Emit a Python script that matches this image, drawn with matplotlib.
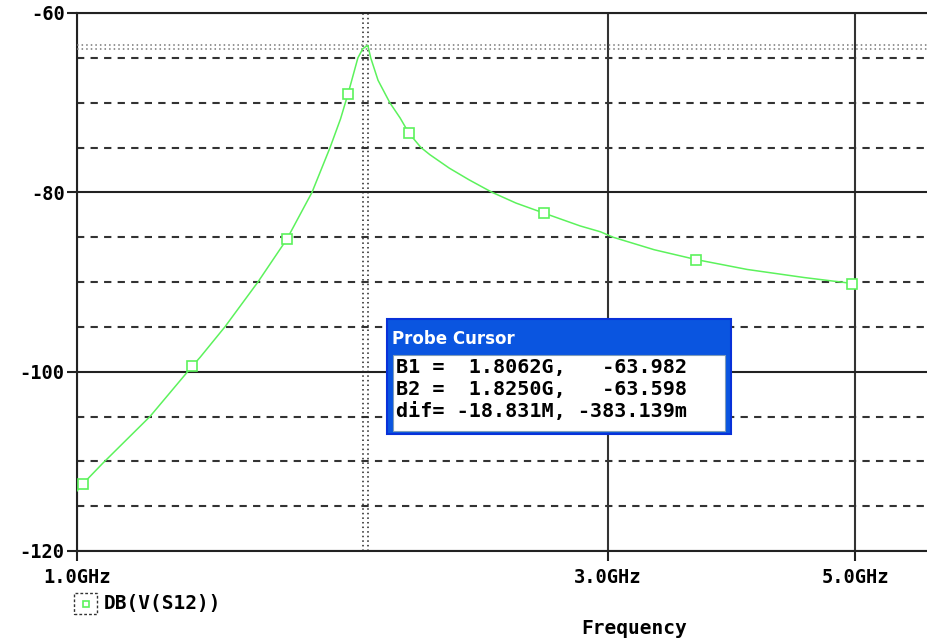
import numpy as np
import matplotlib.pyplot as plt
from matplotlib.patches import Rectangle

# trace DB(V(S12)), frequency in GHz
freq = [1.000, 1.0125, 1.055, 1.163, 1.269, 1.290, 1.358, 1.454, 1.544, 1.626,
        1.688, 1.725, 1.752, 1.788, 1.8062, 1.825, 1.836, 1.864, 1.910, 1.951,
        1.987, 2.037, 2.075, 2.160, 2.250, 2.360, 2.480, 2.625, 2.832, 2.953,
        3.030, 3.300, 3.600, 4.000, 4.500, 5.000]
db = [-113.3, -112.5, -110.2, -105.0, -99.4, -98.4, -95.0, -90.0, -85.2, -80.0,
      -75.0, -71.8, -69.0, -65.0, -63.982, -63.598, -65.0, -67.5, -70.0, -71.7,
      -73.4, -75.0, -75.8, -77.3, -78.6, -80.0, -81.2, -82.3, -83.75, -84.4,
      -85.0, -86.4, -87.5, -88.6, -89.5, -90.2]

# hollow square symbols drawn on the trace
marker_freq = [1.0125, 1.269, 1.544, 1.752, 1.987, 2.625, 3.600, 4.972]
marker_db = [-112.5, -99.4, -85.2, -69.0, -73.4, -82.3, -87.5, -90.2]

# cursors B1 and B2
cursor_freq = [1.8062, 1.825]
cursor_db = [-63.982, -63.598]

x_ticks = [1.0, 3.0, 5.0]
x_labels = ['1.0GHz', '3.0GHz', '5.0GHz']
y_major = [-120, -100, -80, -60]
y_minor = [-115, -110, -105, -95, -90, -85, -75, -70, -65]

probe_lines = ['B1 =  1.8062G,   -63.982',
               'B2 =  1.8250G,   -63.598',
               'dif= -18.831M, -383.139m']

W, H = 927, 641
green = '#5cf25c'
mono = 'DejaVu Sans Mono'

fig = plt.figure(figsize=(W / 100, H / 100), dpi=100)
ax = fig.add_axes([77 / W, 1 - 551 / H, 850 / W, 538 / H])

ax.plot(freq, db, color=green, lw=1.1, zorder=4)
ax.plot(marker_freq, marker_db, ls='none', marker='s', ms=6.5, mfc='white',
        mec=green, mew=1.2, zorder=5)

for f in cursor_freq:
    ax.axvline(f, color='#222222', lw=1.1, ls=(0, (1, 2)), zorder=3)
for v in cursor_db:
    ax.axhline(v, color='#777777', lw=1.1, ls=(0, (1, 2)), zorder=3)

ax.set_xscale('log')
ax.set_xlim(1.0, 5.803)
ax.set_ylim(-120, -60)
ax.xaxis.set_minor_locator(plt.NullLocator())
ax.set_xticks(x_ticks)
ax.set_xticklabels(x_labels)
ax.set_yticks(y_major)
ax.set_yticklabels([str(v) for v in y_major])
ax.set_yticks(y_minor, minor=True)

ax.grid(axis='x', which='major', color='#333333', lw=1.5, ls='-')
ax.grid(axis='y', which='major', color='#222222', lw=1.5, ls='-')
ax.grid(axis='y', which='minor', color='#333333', lw=1.5, ls=(0, (3.5, 3)))
ax.set_axisbelow(True)

ax.tick_params(axis='both', which='major', length=7, width=1.5, color='#222222',
               labelsize=13.5)
ax.tick_params(axis='y', which='minor', length=0)
ax.tick_params(axis='x', pad=5)
ax.tick_params(axis='y', pad=2)
for lab in ax.get_xticklabels() + ax.get_yticklabels():
    lab.set_fontfamily(mono)
    lab.set_fontweight('bold')

ax.spines['right'].set_visible(False)
for s in ['left', 'top', 'bottom']:
    ax.spines[s].set_color('#222222')
    ax.spines[s].set_linewidth(1.5)

fig.text(634 / W, 1 - 628 / H, 'Frequency', family=mono, weight='bold',
         fontsize=14, ha='center', va='center')

# legend entry below the axis
fig.add_artist(Rectangle((74 / W, 1 - 614 / H), 23 / W, 21 / H, fill=False,
                         ec='#333333', lw=1.0, ls=(0, (2, 1.5)),
                         transform=fig.transFigure))
fig.add_artist(plt.Line2D([85.5 / W], [1 - 603.5 / H], marker='s', ms=5,
                          mfc='white', mec=green, mew=1.2,
                          transform=fig.transFigure))
fig.text(104 / W, 1 - 604 / H, 'DB(V(S12))', family=mono, weight='bold',
         fontsize=14, ha='left', va='center')

# probe cursor window
fig.add_artist(Rectangle((387 / W, 1 - 434 / H), 344 / W, 115 / H,
                         fc='#0a55e0', ec='#0831d9', lw=1.5,
                         transform=fig.transFigure, zorder=10))
fig.add_artist(Rectangle((393 / W, 1 - 431 / H), 332 / W, 76 / H,
                         fc='white', ec='#7f9db9', lw=0.8,
                         transform=fig.transFigure, zorder=11))
fig.text(392 / W, 1 - 339 / H, 'Probe Cursor', color='white', weight='bold',
         fontsize=12, ha='left', va='center', zorder=12)
for i, line in enumerate(probe_lines):
    fig.text(396 / W, 1 - (367 + 22.5 * i) / H, line, family=mono,
             weight='bold', fontsize=14.5, ha='left', va='center', zorder=12)

fig.savefig('out.png', dpi=100)
